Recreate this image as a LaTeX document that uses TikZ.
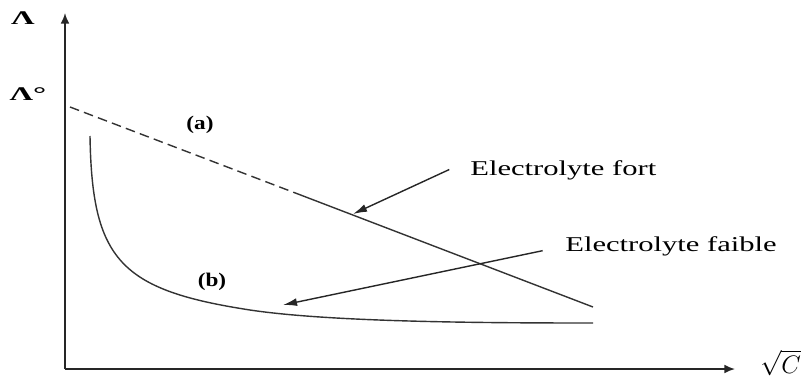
\documentclass[tikz,border=0pt]{standalone}
\usepackage{fontspec}
\setmainfont{Liberation Serif}
\newfontfamily\lblfont{Liberation Serif}[FakeStretch=1.45]
\newfontfamily\tagfont{Liberation Serif}[FakeStretch=1.2]
\newfontfamily\axfont{Liberation Serif}[FakeStretch=1.7]
\usetikzlibrary{arrows.meta,positioning}

\begin{document}
\begin{tikzpicture}[
        x=0.02cm, y=-0.02cm,
        lab/.style={font=\lblfont\fontsize{12}{14}\selectfont, inner sep=0pt, anchor=west},
        tag/.style={font=\tagfont\bfseries\fontsize{11}{13}\selectfont, inner sep=0pt},
        axlab/.style={font=\axfont\bfseries\fontsize{11}{13}\selectfont, inner sep=0pt},
        axis/.style={-{Latex[length=6pt,width=5pt]}, line width=1pt, black!85},
        curve/.style={line width=0.8pt, black!80},
        arrow/.style={-{Latex[length=8pt,width=4.5pt]}, line width=0.8pt, black!85, shorten <=13pt}
    ]
        \useasboundingbox (0,0) rectangle (802,376);

        % axes
        \coordinate (origin) at (65,369);
        \coordinate (ytop) at (65,13);
        \coordinate (xend) at (735,369);
        \draw[axis] (origin) -- (ytop);
        \draw[axis] (origin) -- (xend);
        \node[axlab] (lambda) at (23,18) {Λ};
        \node[axlab] (lambda0) at (28,94) {Λ°};
        \node[anchor=west, inner sep=0pt, font=\fontsize{14}{16}\selectfont] (sqrtc) at (760,363) {$\sqrt{C}$};

        % strong electrolyte
        \coordinate (lim) at (70,107);
        \coordinate (mid) at (298,194);
        \coordinate (fend) at (593,307);
        \draw[curve, dash pattern=on 5.5pt off 3pt] (lim) -- (mid);
        \draw[curve] (mid) -- (fend);
        \node[tag] (a) at (200,125) {(a)};

        % weak electrolyte
        \coordinate (wstart) at (90,136);
        \coordinate (wknee) at (250,310);
        \coordinate (wend) at (593,323);
        \draw[curve] (wstart) .. controls (92,260) and (120,290) .. (wknee)
            .. controls (330,322) and (480,323) .. (wend);
        \node[tag] (b) at (212,282) {(b)};

        % labels
        \node[lab] (fort) at (470,170) {Electrolyte fort};
        \node[lab] (faible) at (565,246) {Electrolyte faible};
        \coordinate (pfort) at (353,214);
        \coordinate (pfaible) at (283,305);
        \draw[arrow] (fort.north west) -- (pfort);
        \draw[arrow] (faible.west) -- (pfaible);
    \end{tikzpicture}
\end{document}
